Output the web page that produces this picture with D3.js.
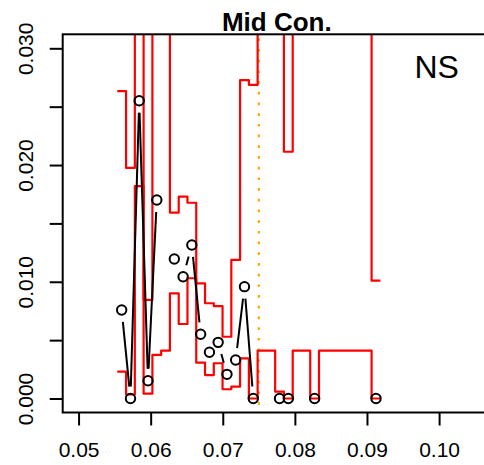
<!DOCTYPE html>
<html>
<head>
<meta charset="utf-8">
<script src="https://cdn.jsdelivr.net/npm/d3@7"></script>
<style>
  html, body { margin: 0; padding: 0; background: #fff; }
  svg text { font-family: "Liberation Sans", Arial, Helvetica, sans-serif; fill: #000; }
</style>
</head>
<body>
<svg id="chart" width="484" height="465"></svg>
<script>
// Grid of x positions (one per bin)
const xGrid = [0.05598, 0.05720, 0.05841, 0.05963, 0.06085, 0.06206, 0.06328, 0.06450,
               0.06571, 0.06693, 0.06815, 0.06936, 0.07058, 0.07179, 0.07301, 0.07423,
               0.07544, 0.07666, 0.07787, 0.07909, 0.08031, 0.08152, 0.08274, 0.08395,
               0.08517, 0.08639, 0.08760, 0.08882, 0.09003, 0.09125];

// Point estimates (null = no estimate in that bin)
const estimate = [0.00758, 0, 0.02551, 0.00152, 0.0170, null, 0.01195, 0.01043,
                  0.01315, 0.0055, 0.00396, 0.00481, 0.00207, 0.0033, 0.00958, 0,
                  null, null, 0, 0, null, null, 0, null,
                  null, null, null, null, null, 0];

// Upper and lower bounds of the interval for each bin
const upper = [0.02634, 0.01975, 0.045, 0.00844, 0.045, 0.045, 0.01593, 0.01729,
               0.01677, 0.00987, 0.00816, 0.00792, 0.00529, 0.01187, 0.02728, 0.02686,
               0.045, 0.045, 0.045, 0.02114, 0.045, 0.045, 0.045, 0.045,
               0.045, 0.045, 0.045, 0.045, 0.045, 0.01009];
const lower = [0.0023, 0.00034, 0.01819, 0.00041, 0.00373, 0.0041, 0.00901, 0.00638,
               0.0103, 0.00307, 0.00201, 0.00302, 0.00079, 0.00101, 0.00344, 0,
               0.0041, 0.0041, 0.00058, 0, 0.0041, 0.0041, 0, 0.0041,
               0.0041, 0.0041, 0.0041, 0.0041, 0.0041, 0];

const xTicks = [0.05, 0.06, 0.07, 0.08, 0.09, 0.10];
const yTicks = [0, 0.005, 0.01, 0.015, 0.02, 0.025, 0.03];
const yLabelled = [0, 0.01, 0.02, 0.03];
const refLine = 0.075;
const title = "Mid Con.";
const note = "NS";

const svg = d3.select("#chart");
const plotL = 62.7, plotR = 491, plotT = 34.3, plotB = 412.5;

const x = d3.scaleLinear().domain([0.0478, 0.1072]).range([plotL, plotR]);
const y = d3.scaleLinear().domain([-0.0012, 0.0312]).range([plotB, plotT]);

svg.append("defs").append("clipPath").attr("id", "plotClip")
  .append("rect").attr("x", plotL).attr("y", plotT)
  .attr("width", plotR - plotL).attr("height", plotB - plotT);

const plot = svg.append("g").attr("clip-path", "url(#plotClip)");

// Reference line
plot.append("line")
  .attr("x1", x(refLine)).attr("x2", x(refLine))
  .attr("y1", plotT).attr("y2", plotB)
  .attr("stroke", "#FFA500").attr("stroke-width", 2.2)
  .attr("stroke-dasharray", "2.7,8").attr("stroke-dashoffset", 6.7);

// Interval bands as steps centred on each bin
const n = xGrid.length;
const edges = [xGrid[0] - (xGrid[1] - xGrid[0]) / 2];
for (let i = 1; i < n; i++) edges.push((xGrid[i - 1] + xGrid[i]) / 2);
edges.push(xGrid[n - 1] + (xGrid[n - 1] - xGrid[n - 2]) / 2);

function stepPoints(vals) {
  const pts = vals.map((v, i) => [edges[i], v]);
  pts.push([edges[n], vals[n - 1]]);
  return pts;
}
const stepLine = d3.line().x(d => x(d[0])).y(d => y(d[1])).curve(d3.curveStepAfter);

[upper, lower].forEach(vals => {
  plot.append("path")
    .attr("d", stepLine(stepPoints(vals)))
    .attr("fill", "none").attr("stroke", "#ff0000")
    .attr("stroke-width", 2.2).attr("stroke-linejoin", "round");
});

// Estimates: open circles joined by gapped segments
const pts = xGrid.map((xv, i) => ({ x: xv, y: estimate[i] }));
const gap = 12;
for (let i = 1; i < n; i++) {
  const a = pts[i - 1], b = pts[i];
  if (a.y === null || b.y === null) continue;
  const x0 = x(a.x), y0 = y(a.y), x1 = x(b.x), y1 = y(b.y);
  const dx = x1 - x0, dy = y1 - y0, len = Math.hypot(dx, dy);
  const f = gap / len;
  if (f >= 0.5) continue;
  plot.append("line")
    .attr("x1", x0 + f * dx).attr("y1", y0 + f * dy)
    .attr("x2", x1 - f * dx).attr("y2", y1 - f * dy)
    .attr("stroke", "#000").attr("stroke-width", 2);
}
plot.selectAll("circle.est").data(pts.filter(d => d.y !== null)).join("circle")
  .attr("class", "est")
  .attr("cx", d => x(d.x)).attr("cy", d => y(d.y)).attr("r", 4.7)
  .attr("fill", "none").attr("stroke", "#000").attr("stroke-width", 2);

// Axes
const xAxis = svg.append("g").attr("transform", `translate(0,${plotB})`)
  .call(d3.axisBottom(x).tickValues(xTicks).tickSize(13).tickPadding(17).tickFormat(d3.format(".2f")));
xAxis.select(".domain").remove();
xAxis.selectAll(".tick line").attr("stroke-width", 2);
xAxis.selectAll(".tick text").attr("font-size", 21).style("font-family", "'Liberation Sans', Arial, sans-serif");

const yAxis = svg.append("g").attr("transform", `translate(${plotL},0)`)
  .call(d3.axisLeft(y).tickValues(yTicks).tickSize(13)
    .tickFormat(d => yLabelled.some(v => Math.abs(v - d) < 1e-9) ? d3.format(".3f")(d) : ""));
yAxis.select(".domain").remove();
yAxis.selectAll(".tick line").attr("stroke-width", 2);
yAxis.selectAll(".tick text")
  .attr("x", null).attr("dy", null).attr("y", null)
  .attr("transform", `translate(${33.3 - plotL},0) rotate(-90)`)
  .attr("text-anchor", "middle").attr("font-size", 21)
  .style("font-family", "'Liberation Sans', Arial, sans-serif");

// Plot frame
svg.append("rect").attr("x", plotL).attr("y", plotT)
  .attr("width", plotR - plotL).attr("height", plotB - plotT)
  .attr("fill", "none").attr("stroke", "#000").attr("stroke-width", 2);

// Title and annotation
svg.append("text").attr("x", (plotL + plotR) / 2).attr("y", 31)
  .attr("text-anchor", "middle").attr("font-size", 26).attr("font-weight", "bold")
  .text(title);
svg.append("text").attr("x", 436.7).attr("y", 78)
  .attr("text-anchor", "middle").attr("font-size", 32)
  .text(note);
</script>
</body>
</html>
